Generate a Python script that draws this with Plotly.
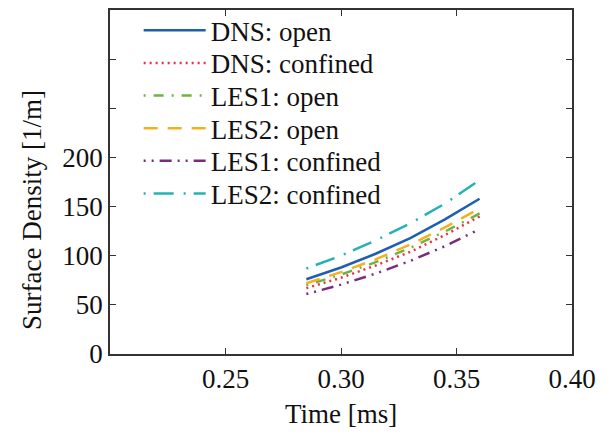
import plotly.graph_objects as go

time_ms = [0.285, 0.30, 0.315, 0.33, 0.345, 0.36]

dns_open = [76, 88, 102, 118, 137, 158]
dns_confined = [67, 77.6, 90, 104, 121, 140]
les1_open = [70, 80.8, 93.4, 108, 124.6, 143]
les2_open = [72, 83.3, 96.3, 111.4, 128.8, 148]
les1_confined = [61, 70.6, 81.8, 94.7, 109.7, 127]
les2_confined = [87, 100, 115.5, 133, 153, 177]

series_names = ["DNS: open", "DNS: confined", "LES1: open", "LES2: open",
                "LES1: confined", "LES2: confined"]
series_values = [dns_open, dns_confined, les1_open, les2_open, les1_confined, les2_confined]
colors = ["#1f5fb0", "#e8304a", "#6cb444", "#f5b020", "#7a2a80", "#25b2b2"]
dashes = ["solid", "2px,4px", "2px,8px,10px,8px", "14px,10px",
          "2px,6px,2px,6px,12px,6px", "2px,8px,20px,10px"]

font = "Liberation Serif"
FS = 27

# plot area in pixels (for placing legend rows)
top, bottom = 6, 354
row_px = [27, 60, 93, 126, 159, 192]

fig = go.Figure()
legend_layout = {}
for i, (name, vals, c, d) in enumerate(zip(series_names, series_values, colors, dashes)):
    key = "legend" if i == 0 else f"legend{i+1}"
    fig.add_trace(go.Scatter(x=time_ms, y=vals, mode="lines", name=name,
                             legend=key,
                             line=dict(color=c, width=2.5, dash=d)))
    legend_layout[key] = dict(
        x=0.062, y=(bottom - row_px[i]) / (bottom - top),
        xanchor="left", yanchor="middle",
        bgcolor="rgba(0,0,0,0)", itemwidth=62,
        font=dict(family=font, size=FS, color="#111"))

ytickvals = [0, 50, 100, 150, 200, 250, 300, 350]
yticktext = ["0", "50", "100", "150", "200", "", "", ""]

fig.update_layout(
    width=606, height=432,
    margin=dict(l=110, r=34, t=6, b=78),
    paper_bgcolor="white", plot_bgcolor="white",
    font=dict(family=font, size=FS, color="#111"),
    showlegend=True,
    xaxis=dict(range=[0.2, 0.4], tickvals=[0.25, 0.30, 0.35, 0.40],
               ticktext=["0.25", "0.30", "0.35", "0.40"],
               ticks="inside", ticklen=6, tickcolor="#333",
               showline=True, linecolor="#333", linewidth=1.5, mirror="ticks",
               showgrid=False, zeroline=False,
               tickfont=dict(family=font, size=FS)),
    yaxis=dict(range=[0, 350], tickvals=ytickvals, ticktext=yticktext,
               ticks="inside", ticklen=6, tickcolor="#333",
               showline=True, linecolor="#333", linewidth=1.5, mirror="ticks",
               showgrid=False, zeroline=False,
               tickfont=dict(family=font, size=FS)),
    annotations=[
        dict(text="Surface Density [1/m]", xref="paper", yref="paper",
             x=-0.17, y=0.42, xanchor="center", yanchor="middle",
             textangle=-90, showarrow=False,
             font=dict(family=font, size=FS)),
        dict(text="Time [ms]", xref="paper", yref="paper",
             x=0.5, y=-0.175, xanchor="center", yanchor="middle",
             showarrow=False, font=dict(family=font, size=FS)),
    ],
    **legend_layout,
)

fig.write_html("out.html")
